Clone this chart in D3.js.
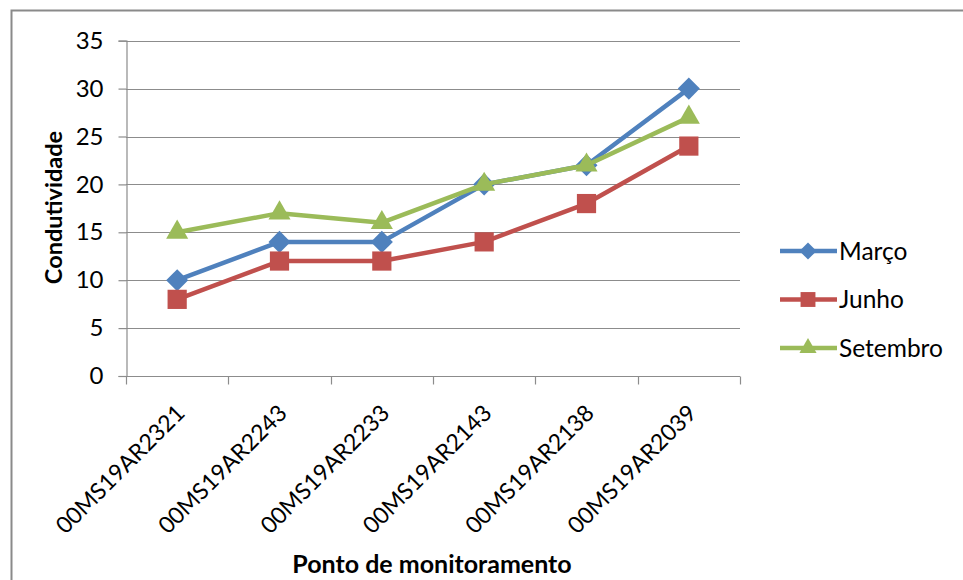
<!DOCTYPE html>
<html>
<head>
<meta charset="utf-8">
<script src="https://cdn.jsdelivr.net/npm/d3@7"></script>
<style>
  html, body { margin: 0; padding: 0; background: #fff; }
  svg { display: block; }
  text { font-family: Lato, "Open Sans", sans-serif; fill: #000; }
</style>
</head>
<body>
<svg id="chart" width="963" height="580"></svg>
<script>
// Monitoring points along the x axis
const pontos = ["00MS19AR2321", "00MS19AR2243", "00MS19AR2233", "00MS19AR2143", "00MS19AR2138", "00MS19AR2039"];

// Conductivity per campaign
const marco    = [10, 14, 14, 20, 22, 30];
const junho    = [8, 12, 12, 14, 18, 24];
const setembro = [15, 17, 16, 20, 22, 27];

const yTicks = [0, 5, 10, 15, 20, 25, 30, 35];

const seriesNames = ["Março", "Junho", "Setembro"];
const seriesColors = ["#4F81BD", "#C0504D", "#9BBB59"];
const seriesMarkers = [d3.symbolDiamond2, d3.symbolSquare2, d3.symbolTriangle2];

const series = [marco, junho, setembro].map((vals, i) => ({
  name: seriesNames[i], color: seriesColors[i], marker: seriesMarkers[i],
  values: vals.map((v, j) => ({ cat: pontos[j], v }))
}));

const svg = d3.select("#chart");
const plot = { left: 126, right: 740, top: 40.7, bottom: 376 };

// Outer frame
svg.append("rect")
  .attr("x", 11.5).attr("y", 10.5)
  .attr("width", 980).attr("height", 600)
  .attr("fill", "none").attr("stroke", "#8a8a8a").attr("stroke-width", 2);

const x = d3.scaleBand().domain(pontos).range([plot.left, plot.right]).padding(0);
const y = d3.scaleLinear().domain([0, 35]).range([plot.bottom, plot.top]);

// Horizontal gridlines
svg.append("g")
  .selectAll("line")
  .data(yTicks.filter(t => t > 0))
  .join("line")
  .attr("x1", plot.left).attr("x2", plot.right)
  .attr("y1", d => Math.round(y(d)) + 0.5).attr("y2", d => Math.round(y(d)) + 0.5)
  .attr("stroke", "#8c8c8c").attr("stroke-width", 1.2);

// Y axis
const yAxis = svg.append("g")
  .attr("transform", `translate(${plot.left + 0.5},0)`)
  .call(d3.axisLeft(y).tickValues(yTicks).tickSize(8).tickPadding(15));
yAxis.select(".domain").attr("stroke", "#8c8c8c").attr("stroke-width", 1.2);
yAxis.selectAll(".tick line").attr("stroke", "#8c8c8c").attr("stroke-width", 1.2);
yAxis.selectAll(".tick text").attr("font-size", 24).attr("font-family", "Lato").attr("fill", "#000");

// X axis with ticks at band boundaries
const xAxis = svg.append("g").attr("transform", `translate(0,${Math.round(plot.bottom) + 0.5})`);
xAxis.append("line")
  .attr("x1", plot.left).attr("x2", plot.right)
  .attr("stroke", "#8c8c8c").attr("stroke-width", 1.2);
const edges = pontos.map(p => x(p)).concat([plot.right]);
xAxis.selectAll("line.tk").data(edges).join("line").attr("class", "tk")
  .attr("x1", d => Math.round(d) + 0.5).attr("x2", d => Math.round(d) + 0.5)
  .attr("y1", 0).attr("y2", 8)
  .attr("stroke", "#8c8c8c").attr("stroke-width", 1.2);
xAxis.selectAll("text").data(pontos).join("text")
  .attr("transform", d => `translate(${x(d) + x.bandwidth() / 2 + 9},${414 - plot.bottom}) rotate(-45)`)
  .attr("text-anchor", "end")
  .attr("font-size", 23)
  .text(d => d);

// Series lines and markers
const line = d3.line().x(d => x(d.cat) + x.bandwidth() / 2).y(d => y(d.v));
const markerSize = { "Março": 310, "Junho": 470, "Setembro": 350 };

series.forEach(s => {
  const g = svg.append("g");
  g.append("path").datum(s.values)
    .attr("d", line).attr("fill", "none")
    .attr("stroke", s.color).attr("stroke-width", 4.5).attr("stroke-linejoin", "round");
  g.selectAll("path.mk").data(s.values).join("path").attr("class", "mk")
    .attr("transform", d => `translate(${x(d.cat) + x.bandwidth() / 2},${y(d.v)})`)
    .attr("d", d3.symbol().type(s.marker).size(markerSize[s.name]))
    .attr("fill", s.color);
});

// Legend
const legend = svg.append("g");
series.forEach((s, i) => {
  const ly = 251 + i * 48.5;
  legend.append("line")
    .attr("x1", 780).attr("x2", 837).attr("y1", ly).attr("y2", ly)
    .attr("stroke", s.color).attr("stroke-width", 4.5);
  legend.append("path")
    .attr("transform", `translate(808,${ly})`)
    .attr("d", d3.symbol().type(s.marker).size(markerSize[s.name] * 0.6))
    .attr("fill", s.color);
  legend.append("text")
    .attr("x", 839).attr("y", ly).attr("dy", "0.36em")
    .attr("font-size", 24.5)
    .text(s.name);
});

// Axis titles
svg.append("text")
  .attr("transform", `translate(62,207.5) rotate(-90)`)
  .attr("text-anchor", "middle")
  .attr("font-size", 23.5).attr("font-weight", "bold")
  .text("Condutividade");

svg.append("text")
  .attr("x", 432).attr("y", 573)
  .attr("text-anchor", "middle")
  .attr("font-size", 25).attr("font-weight", "bold")
  .text("Ponto de monitoramento");
</script>
</body>
</html>
